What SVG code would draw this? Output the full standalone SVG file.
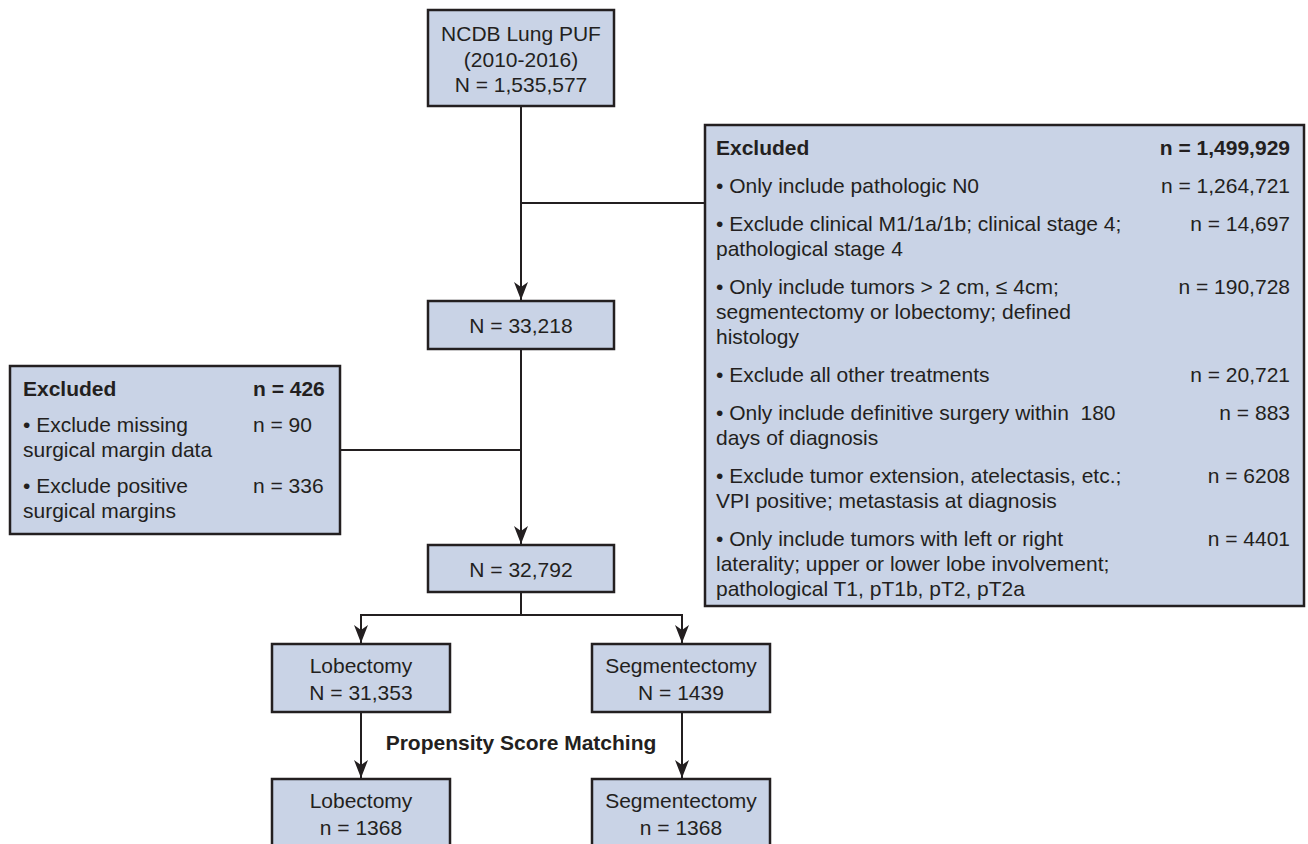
<svg xmlns="http://www.w3.org/2000/svg" width="1308" height="844" viewBox="0 0 1308 844">
<style>
.box{fill:#c9d3e6;stroke:#231f20;stroke-width:2.5}
text{font-family:"Liberation Sans",Arial,sans-serif;font-size:21px;fill:#231f20}
.c{text-anchor:middle}
.r{text-anchor:end}
.b{font-weight:bold}
.ln{fill:none;stroke:#231f20;stroke-width:2}
</style>
<defs>
<marker id="ah" viewBox="-19 -8 20 16" markerWidth="20" markerHeight="16" refX="0" refY="0" orient="auto" markerUnits="userSpaceOnUse">
<path d="M0,0 L-18,-7 L-13,0 L-18,7 Z" fill="#231f20"/>
</marker>
</defs>
<rect width="1308" height="844" fill="#ffffff"/>
<g id="connectors">
<line class="ln" x1="521" y1="106" x2="521" y2="300" marker-end="url(#ah)"/>
<line class="ln" x1="521" y1="203" x2="705" y2="203"/>
<line class="ln" x1="521" y1="349" x2="521" y2="544" marker-end="url(#ah)"/>
<line class="ln" x1="340" y1="450" x2="521" y2="450"/>
<polyline class="ln" points="521,592 521,615"/>
<line class="ln" x1="360" y1="615" x2="683" y2="615"/>
<line class="ln" x1="361" y1="615" x2="361" y2="643" marker-end="url(#ah)"/>
<line class="ln" x1="682" y1="615" x2="682" y2="643" marker-end="url(#ah)"/>
<line class="ln" x1="361" y1="712" x2="361" y2="778" marker-end="url(#ah)"/>
<line class="ln" x1="682" y1="712" x2="682" y2="778" marker-end="url(#ah)"/>
<text class="c b" x="521" y="750">Propensity Score Matching</text>
</g>
<g id="n_source">
<rect class="box" x="428" y="10" width="186" height="96"/>
<text class="c" x="521" y="41">NCDB Lung PUF</text>
<text class="c" x="521" y="67">(2010-2016)</text>
<text class="c" x="521" y="92">N = 1,535,577</text>
</g>
<g id="n_excluded_right">
<rect class="box" x="705" y="125" width="599" height="481"/>
<text class="b" x="716" y="155">Excluded</text>
<text class="r b" x="1290" y="155">n = 1,499,929</text>
<text x="716" y="193">• Only include pathologic N0</text>
<text class="r" x="1290" y="193">n = 1,264,721</text>
<text x="716" y="231">• Exclude clinical M1/1a/1b; clinical stage 4;</text>
<text class="r" x="1290" y="231">n = 14,697</text>
<text x="716" y="256">pathological stage 4</text>
<text x="716" y="294">• Only include tumors &gt; 2 cm, ≤ 4cm;</text>
<text class="r" x="1290" y="294">n = 190,728</text>
<text x="716" y="319">segmentectomy or lobectomy; defined</text>
<text x="716" y="344">histology</text>
<text x="716" y="382">• Exclude all other treatments</text>
<text class="r" x="1290" y="382">n = 20,721</text>
<text x="716" y="420" xml:space="preserve">• Only include definitive surgery within  180</text>
<text class="r" x="1290" y="420">n = 883</text>
<text x="716" y="445">days of diagnosis</text>
<text x="716" y="483">• Exclude tumor extension, atelectasis, etc.;</text>
<text class="r" x="1290" y="483">n = 6208</text>
<text x="716" y="508">VPI positive; metastasis at diagnosis</text>
<text x="716" y="546">• Only include tumors with left or right</text>
<text class="r" x="1290" y="546">n = 4401</text>
<text x="716" y="571">laterality; upper or lower lobe involvement;</text>
<text x="716" y="596">pathological T1, pT1b, pT2, pT2a</text>
</g>
<g id="n_33218">
<rect class="box" x="428" y="301" width="186" height="48"/>
<text class="c" x="521" y="333">N = 33,218</text>
</g>
<g id="n_excluded_left">
<rect class="box" x="10" y="366" width="330" height="168"/>
<text class="b" x="23" y="396">Excluded</text>
<text class="b" x="253" y="396">n = 426</text>
<text x="23" y="432">• Exclude missing</text>
<text x="253" y="432">n = 90</text>
<text x="23" y="457">surgical margin data</text>
<text x="23" y="493">• Exclude positive</text>
<text x="253" y="493">n = 336</text>
<text x="23" y="518">surgical margins</text>
</g>
<g id="n_32792">
<rect class="box" x="428" y="545" width="186" height="47"/>
<text class="c" x="521" y="577">N = 32,792</text>
</g>
<g id="n_lob">
<rect class="box" x="272" y="644" width="178" height="68"/>
<text class="c" x="361" y="673">Lobectomy</text>
<text class="c" x="361" y="700">N = 31,353</text>
</g>
<g id="n_seg">
<rect class="box" x="592" y="644" width="178" height="68"/>
<text class="c" x="681" y="673">Segmentectomy</text>
<text class="c" x="681" y="700">N = 1439</text>
</g>
<g id="n_lob_m">
<rect class="box" x="272" y="779" width="178" height="75"/>
<text class="c" x="361" y="808">Lobectomy</text>
<text class="c" x="361" y="835">n = 1368</text>
</g>
<g id="n_seg_m">
<rect class="box" x="592" y="779" width="178" height="75"/>
<text class="c" x="681" y="808">Segmentectomy</text>
<text class="c" x="681" y="835">n = 1368</text>
</g>
</svg>
